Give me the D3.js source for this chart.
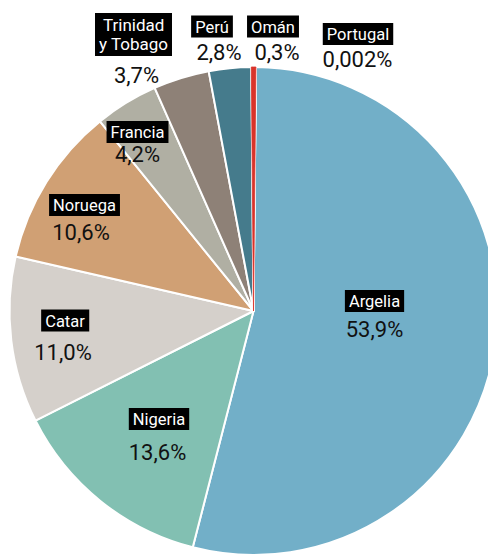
<!DOCTYPE html>
<html>
<head>
<meta charset="utf-8">
<script src="https://cdn.jsdelivr.net/npm/d3@7"></script>
<style>
  html, body { margin: 0; padding: 0; background: #fff; }
  svg { display: block; font-family: Roboto, "Noto Sans", sans-serif; }
</style>
</head>
<body>
<svg id="chart" width="488" height="555"></svg>
<script>
// ---- data ----
const categories = ["Argelia", "Nigeria", "Catar", "Noruega", "Francia", "Trinidad\ny Tobago", "Perú", "Omán", "Portugal"];
const values = [53.9, 13.6, 11.0, 10.6, 4.2, 3.7, 2.8, 0.3, 0.002];
const valueLabels = ["53,9%", "13,6%", "11,0%", "10,6%", "4,2%", "3,7%", "2,8%", "0,3%", "0,002%"];
const colors = ["#72afc8", "#82c0b2", "#d5d0cb", "#d0a074", "#b0afa3", "#8e8177", "#457b8c", "#d9342b", "#457b8c"];

// label placement relative to pie centre (box centre dx,dy ; value text offset below box)
const labelLayout = [
  { dx: 121,   dy: -10,  pdx: 0,    pdy: 36 },
  { dx: -94.5, dy: 108,  pdx: -1.5, pdy: 41 },
  { dx: -188.5,dy: 9.5,  pdx: -2,   pdy: 39.5 },
  { dx: -169,  dy: -106, pdx: -3.5, pdy: 35 },
  { dx: -116,  dy: -179, pdx: 0,    pdy: 30 },
  { dx: -118,  dy: -276.5, pdx: 1,  pdy: 48 },
  { dx: -41.5, dy: -284.5, pdx: 7,  pdy: 33.5 },
  { dx: 19.5,  dy: -284.5, pdx: 4,  pdy: 33.5 },
  { dx: 104.5, dy: -277, pdx: -0.5, pdy: 33 }
];

const cx = 253.5, cy = 311, R = 244;
const svg = d3.select("#chart");
const g = svg.append("g").attr("transform", `translate(${cx},${cy})`);

const data = categories.map((c, i) => ({ name: c, value: values[i], label: valueLabels[i], color: colors[i], lay: labelLayout[i] }));

const offset = 0.01;
const pie = d3.pie().value(d => d.value).sort(null)
  .startAngle(offset).endAngle(2 * Math.PI + offset);
const arc = d3.arc().innerRadius(0).outerRadius(R);
const arcs = pie(data);

g.selectAll("path.slice")
  .data(arcs)
  .join("path")
  .attr("class", "slice")
  .attr("d", arc)
  .attr("fill", d => d.data.color)
  .attr("stroke", "#fff")
  .attr("stroke-width", 2)
  .attr("stroke-linejoin", "round");

// thin slices redrawn with a finer outline so they stay visible
g.selectAll("path.thin")
  .data(arcs.filter(d => d.data.value < 1 && d.data.value > 0.1))
  .join("path")
  .attr("class", "thin")
  .attr("d", arc)
  .attr("fill", d => d.data.color)
  .attr("stroke", d => d.data.color)
  .attr("stroke-width", 0.8);

// labels
const lab = g.selectAll("g.lab").data(data).join("g").attr("class", "lab")
  .attr("transform", d => `translate(${d.lay.dx},${d.lay.dy})`);

lab.each(function(d) {
  const sel = d3.select(this);
  const lines = d.name.split("\n");
  const multi = lines.length > 1;
  const fs = multi ? 17 : 16.5;
  const lh = 19;
  const rect = sel.append("rect").attr("fill", "#000");
  const t = sel.append("text")
    .attr("fill", "#fff")
    .attr("font-size", fs)
    .attr("text-anchor", multi ? "start" : "middle");
  const startY = multi ? -(lines.length - 1) * lh / 2 + 6 : 6;
  lines.forEach((ln, i) => {
    t.append("tspan").attr("x", 0).attr("y", startY + i * lh).text(ln);
  });
  const bb = t.node().getBBox();
  if (multi) {
    t.selectAll("tspan").attr("x", (p, i) => -bb.width / 2 + (i === 1 ? -2 : 2));
  }
  const bb2 = t.node().getBBox();
  const padX = 4;
  const h = multi ? 43 : 22;
  rect.attr("x", bb2.x - padX).attr("y", -h / 2)
      .attr("width", bb2.width + 2 * padX).attr("height", h);

  sel.append("text")
    .attr("x", d.lay.pdx).attr("y", d.lay.pdy)
    .attr("text-anchor", "middle")
    .attr("fill", "#111")
    .attr("font-size", 22)
    .text(d.label);
});
</script>
</body>
</html>
